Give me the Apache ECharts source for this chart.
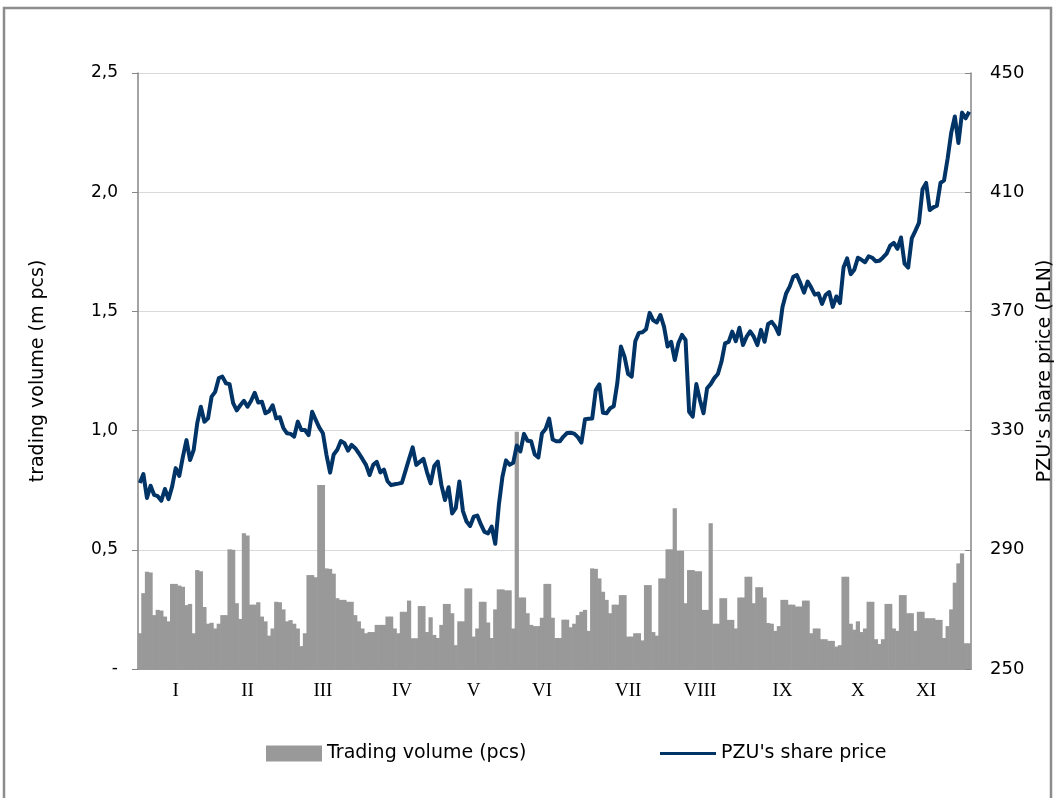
<!DOCTYPE html>
<html>
<head>
<meta charset="utf-8">
<title>PZU trading volume and share price</title>
<script src="https://cdn.jsdelivr.net/npm/echarts@6/dist/echarts.min.js"></script>
<style>
    html, body { margin: 0; padding: 0; background: #fff; }
    #chart { width: 1056px; height: 798px; }
</style>
</head>
<body>
<div id="chart"></div>
<script type="text/javascript">
    // trading volume, m pcs (one bar per session)
    let volume = [
        0.15, 0.318, 0.408, 0.405, 0.226, 0.248, 0.245, 0.22, 0.2, 0.357,
        0.357, 0.35, 0.345, 0.268, 0.273, 0.15, 0.415, 0.41, 0.26, 0.19,
        0.194, 0.17, 0.19, 0.226, 0.226, 0.502, 0.5, 0.276, 0.21, 0.569,
        0.56, 0.27, 0.27, 0.28, 0.22, 0.2, 0.14, 0.17, 0.282, 0.28,
        0.25, 0.2, 0.205, 0.19, 0.17, 0.096, 0.15, 0.394, 0.394, 0.385,
        0.772, 0.772, 0.422, 0.42, 0.4, 0.297, 0.29, 0.29, 0.282, 0.282,
        0.226, 0.2, 0.17, 0.15, 0.155, 0.155, 0.185, 0.185, 0.185, 0.22,
        0.22, 0.17, 0.15, 0.24, 0.24, 0.287, 0.129, 0.129, 0.264, 0.264,
        0.155, 0.217, 0.143, 0.13, 0.185, 0.273, 0.273, 0.234, 0.1, 0.2,
        0.2, 0.338, 0.338, 0.136, 0.17, 0.282, 0.282, 0.195, 0.13, 0.25,
        0.334, 0.334, 0.33, 0.33, 0.17, 0.995, 0.3, 0.3, 0.234, 0.185,
        0.18, 0.18, 0.215, 0.357, 0.357, 0.215, 0.13, 0.13, 0.207, 0.207,
        0.175, 0.19, 0.226, 0.24, 0.248, 0.16, 0.422, 0.42, 0.38, 0.324,
        0.29, 0.234, 0.27, 0.27, 0.31, 0.31, 0.136, 0.136, 0.15, 0.15,
        0.12, 0.352, 0.352, 0.155, 0.14, 0.38, 0.38, 0.502, 0.502, 0.674,
        0.496, 0.496, 0.276, 0.415, 0.415, 0.41, 0.41, 0.248, 0.248, 0.611,
        0.19, 0.19, 0.297, 0.297, 0.206, 0.206, 0.17, 0.3, 0.3, 0.387,
        0.387, 0.276, 0.343, 0.343, 0.3, 0.193, 0.19, 0.16, 0.18, 0.29,
        0.29, 0.27, 0.27, 0.262, 0.262, 0.287, 0.287, 0.15, 0.17, 0.17,
        0.125, 0.125, 0.118, 0.118, 0.094, 0.1, 0.387, 0.387, 0.19, 0.165,
        0.2, 0.155, 0.17, 0.282, 0.282, 0.125, 0.105, 0.125, 0.273, 0.273,
        0.17, 0.16, 0.31, 0.31, 0.234, 0.234, 0.16, 0.24, 0.24, 0.213,
        0.213, 0.213, 0.206, 0.206, 0.13, 0.18, 0.25, 0.362, 0.443, 0.485,
        0.108, 0.108
    ];

    // PZU's share price, PLN (closing price per session)
    let price = [
        312.4, 315.4, 307.4, 311.5, 308.4, 308, 306.5, 310.4, 307, 311.2,
        317.4, 314.8, 321.2, 326.8, 320.1, 323.5, 332.5, 338, 333, 334.1,
        341.4, 343, 347.6, 348.1, 345.9, 345.6, 339.2, 336.8, 338.5, 340,
        338, 340, 342.7, 339.4, 339.7, 335.8, 336.5, 338.5, 334.1, 334.5,
        330.8, 329.1, 328.9, 328, 333, 330.2, 330.2, 328.5, 336.3, 333.6,
        331, 329.1, 321.8, 315.9, 322, 323.6, 326.5, 325.8, 323.3, 325.2,
        324.1, 322.4, 320.5, 318.5, 315.1, 318.5, 319.5, 316, 316.9, 313,
        311.7, 312, 312.2, 312.5, 316.5, 320.5, 324.4, 318.5, 319.5, 320.5,
        316, 312.3, 318.1, 319.6, 311.7, 306.7, 311, 302.2, 304, 312.9,
        303, 299.5, 298, 301.1, 301.5, 298.5, 296, 295.5, 297.8, 292,
        305, 314.5, 320, 318.5, 319.2, 325, 323, 328.9, 326.6, 326.4,
        322, 321, 329, 330.5, 334, 327, 326.4, 326.4, 328, 329.2,
        329.3, 329, 327.8, 326, 333.8, 334, 334.1, 343.6, 345.5, 336,
        335.8, 337.5, 338.2, 346, 358.2, 354.8, 349, 348.1, 360, 362.8,
        363, 364, 369.5, 367, 366.3, 368.8, 364.9, 358.2, 359.8, 353.7,
        359.3, 362.1, 360.4, 336.3, 334.7, 345.6, 340.3, 335.8, 344.2, 345.6,
        347.6, 349, 353.1, 359.3, 359.8, 363.2, 360, 364.5, 358.7, 361.5,
        363.3, 361.5, 358.7, 363.8, 359.8, 365.8, 366.5, 364.9, 362.4, 371.5,
        376, 378.3, 381.6, 382.2, 379.4, 376.3, 380, 378, 375.6, 376,
        372.5, 375.5, 376.5, 371.5, 375, 372.8, 384.7, 387.8, 382.5, 384,
        388, 387.3, 386.5, 388.5, 388, 386.8, 387, 388.1, 389.4, 392.1,
        393, 391, 394.8, 386, 384.7, 394.5, 397, 399.7, 411, 413.1,
        404, 404.9, 405.5, 413.1, 414, 421.4, 430, 435.4, 426.5, 436.7,
        434.8, 437
    ];

    // month labels and the session they sit under
    let months = ['I', 'II', 'III', 'IV', 'V', 'VI', 'VII', 'VIII', 'IX', 'X', 'XI'];
    let monthAt = [10, 30, 51, 73, 93, 112, 136, 156, 179, 200, 219];

    let days = volume.map(function (v, i) {
        return String(i + 1);
    });
    let monthByDay = {};
    monthAt.forEach(function (d, i) {
        monthByDay[d] = months[i];
    });

    let axisColor = '#868686';
    let barColor = '#999999';
    let lineColor = '#003366';
    let font = 'DejaVu Sans';

    let myChart = echarts.init(document.getElementById('chart'), null, {renderer: 'canvas'});
    let option = {
        backgroundColor: '#ffffff',
        animation: false,
        graphic: [{
            type: 'rect',
            shape: {x: 4, y: 8, width: 1047, height: 800},
            style: {fill: 'none', stroke: '#8c8c8c', lineWidth: 2.5},
            silent: true
        }],
        grid: {
            left: 138,
            right: 85,
            top: 73,
            bottom: 129,
            outerBoundsMode: 'none',
            containLabel: false
        },
        legend: [{
            left: 266,
            top: 744,
            padding: 0,
            itemWidth: 56,
            itemHeight: 16,
            textStyle: {fontFamily: font, fontSize: 19, color: '#000'},
            data: [{name: 'Trading volume (pcs)', icon: 'rect'}]
        }, {
            left: 660,
            top: 744,
            padding: 0,
            itemWidth: 56,
            itemHeight: 3,
            textStyle: {fontFamily: font, fontSize: 19, color: '#000'},
            data: [{name: 'PZU\'s share price', icon: 'rect'}]
        }],
        xAxis: {
            type: 'category',
            data: days,
            boundaryGap: true,
            axisLine: {lineStyle: {color: axisColor, width: 1.5}},
            axisTick: {show: false},
            axisLabel: {
                interval: 0,
                margin: 13,
                fontFamily: 'Liberation Serif',
                fontSize: 19,
                color: '#000',
                formatter: function (val, idx) {
                    return monthByDay[idx] || '';
                }
            },
            splitLine: {show: false}
        },
        yAxis: [{
            type: 'value',
            position: 'left',
            min: 0,
            max: 2.5,
            interval: 0.5,
            name: 'trading volume (m pcs)',
            nameLocation: 'middle',
            nameRotate: 90,
            nameGap: 90,
            nameTextStyle: {fontFamily: font, fontSize: 19, color: '#000'},
            axisLine: {show: true, lineStyle: {color: axisColor, width: 1.5}},
            axisTick: {show: true, inside: false, length: 6, lineStyle: {color: axisColor}},
            axisLabel: {
                margin: 20,
                fontFamily: font,
                fontSize: 17,
                color: '#000',
                formatter: function (v) {
                    return v === 0 ? '-' : v.toFixed(1).replace('.', ',');
                }
            },
            splitLine: {lineStyle: {color: '#d9d9d9', width: 1.2}}
        }, {
            type: 'value',
            position: 'right',
            min: 250,
            max: 450,
            interval: 40,
            name: 'PZU\'s share price (PLN)',
            nameLocation: 'middle',
            nameRotate: 90,
            nameGap: 63,
            nameTextStyle: {fontFamily: font, fontSize: 19, color: '#000'},
            axisLine: {show: true, lineStyle: {color: axisColor, width: 1.5}},
            axisTick: {show: true, inside: true, length: 6, lineStyle: {color: axisColor}},
            axisLabel: {
                margin: 19,
                fontFamily: font,
                fontSize: 18,
                color: '#000'
            },
            splitLine: {show: false}
        }],
        series: [{
            name: 'Trading volume (pcs)',
            type: 'bar',
            yAxisIndex: 0,
            barWidth: '118%',
            itemStyle: {color: barColor},
            data: volume
        }, {
            name: 'PZU\'s share price',
            type: 'line',
            yAxisIndex: 1,
            symbol: 'none',
            showSymbol: false,
            lineStyle: {color: lineColor, width: 4, join: 'round'},
            itemStyle: {color: lineColor},
            data: price,
            z: 3
        }]
    };
    myChart.setOption(option);
</script>
</body>
</html>
